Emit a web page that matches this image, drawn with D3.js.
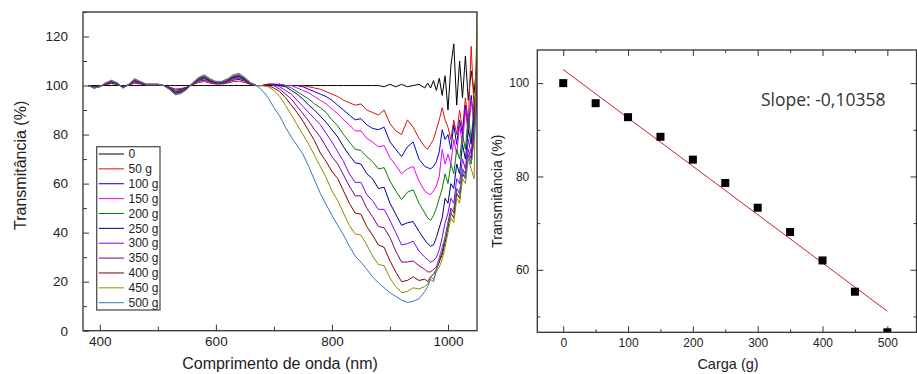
<!DOCTYPE html>
<html>
<head>
<meta charset="utf-8">
<script src="https://cdn.jsdelivr.net/npm/d3@7/dist/d3.min.js"></script>
<style>
  body { margin: 0; background: #fff; }
  svg { display: block; font-family: Arial, "Liberation Sans", sans-serif; }
</style>
</head>
<body>
<svg id="chart" width="917" height="374"></svg>
<script>
// ---- left panel: transmission spectra ----
const wavelengths = [
  380, 390, 400, 410, 420, 430, 440, 450, 460, 470, 480, 490, 500, 510, 520, 530, 540, 550, 560, 570,
  580, 590, 600, 610, 620, 630, 640, 650, 660, 670,
  680, 690, 700, 710, 720, 730, 740, 750, 760, 770, 780, 790, 800, 810, 820, 830, 840, 850, 860, 870,
  880, 890, 900, 910, 920, 930, 940, 950, 960,
  965, 970, 975, 980, 985, 990, 995, 1000, 1005, 1010, 1015, 1020, 1025, 1030, 1035, 1040, 1045, 1050
];

const loadLabels = ["0", "50 g", "100 g", "150 g", "200 g", "250 g", "300 g", "350 g", "400 g", "450 g", "500 g"];

const t0 = [
  100, 100, 100, 100, 100, 100, 100, 100, 100, 100, 100, 100, 100, 100, 100, 100, 100, 100, 100, 100,
  100, 100, 100, 100, 100, 100, 100, 100, 100, 100,
  100, 100, 100, 100, 100, 100, 100, 100, 100, 100, 100, 100, 100, 100, 100, 100, 100, 100, 100, 100,
  100, 99.5, 100.5, 99.5, 100.5, 99.5, 100, 100.5, 99,
  101, 99, 102, 98, 103, 96, 104, 90, 108, 117, 92, 110, 95, 112, 94, 106, 97, 110
];
const t50 = [
  100, 99.6, 99.8, 100.4, 100.8, 100.4, 99.6, 100.2, 101, 100.6, 100.2, 100.2, 100.2, 100, 99.4, 98.6, 98.8, 99.4, 100.4, 101.2,
  101.6, 101, 100.6, 100.6, 101, 101.6, 101.8, 101.2, 100.4, 100,
  100, 100, 100, 100.5, 100, 100, 100, 100, 99.5, 99, 98.5, 97.5, 96.5, 95.5, 94, 93, 92, 92.5, 90, 89,
  88, 90, 84.5, 81.5, 80, 86, 83, 78.5, 75,
  74, 76, 78, 82, 86, 91, 86, 83, 78, 86, 80, 90, 82, 95, 85, 116, 90, 110
];
const t100 = [
  100, 99.5, 99.7, 100.6, 101.1, 100.6, 99.5, 100.3, 101.4, 100.8, 100.3, 100.3, 100.3, 100, 99.2, 98.1, 98.4, 99.2, 100.6, 101.7,
  102.2, 101.4, 100.8, 100.8, 101.4, 102.2, 102.5, 101.7, 100.6, 100,
  100, 100, 100.5, 100.5, 100, 100, 100, 99.5, 98.5, 97.5, 96.5, 95.5, 94, 92, 90, 88, 86, 86.5, 84, 82.5,
  82, 83, 77, 74, 71, 75, 77, 70, 67,
  66.5, 66, 67, 69, 73, 82, 78, 80, 74, 84, 76, 86, 80, 92, 82, 96, 85, 100
];
const t150 = [
  100, 99.4, 99.7, 100.7, 101.3, 100.7, 99.4, 100.3, 101.6, 101, 100.3, 100.3, 100.3, 100, 99, 97.7, 98, 99, 100.7, 102,
  102.6, 101.6, 101, 101, 101.6, 102.6, 102.9, 102, 100.7, 100,
  100, 100.5, 100.5, 100.5, 100, 100, 99, 98, 97, 95.5, 94, 92.5, 90.5, 88.5, 86, 84, 81.5, 81.5, 78.5, 77,
  75, 75.5, 70.5, 67.5, 64, 66, 67, 61, 57,
  56, 55.5, 57, 59, 63, 74, 68, 72, 68, 78, 72, 84, 76, 90, 80, 94, 84, 104
];
const t200 = [
  100, 99.3, 99.7, 100.7, 101.4, 100.7, 99.3, 100.4, 101.8, 101.1, 100.4, 100.4, 100.4, 100, 99, 97.6, 97.9, 99, 100.7, 102.1,
  102.8, 101.8, 101.1, 101.1, 101.8, 102.8, 103.2, 102.1, 100.7, 100,
  100, 100.5, 100.5, 100, 100, 99, 97.5, 96, 94.5, 92.5, 91, 89, 86, 83.5, 80, 77, 74, 73.5, 71, 69,
  66, 66.5, 61, 57, 53.5, 56.5, 57.5, 52, 48,
  46, 45, 47, 50, 54, 58, 64, 60, 68, 64, 74, 70, 80, 74, 88, 78, 92, 100
];
const t250 = [
  100, 99.2, 99.6, 100.8, 101.6, 100.8, 99.2, 100.4, 102, 101.2, 100.4, 100.4, 100.4, 100, 98.8, 97.2, 97.6, 98.8, 100.8, 102.4,
  103.2, 102, 101.2, 101.2, 102, 103.2, 103.6, 102.4, 100.8, 100,
  100, 100.5, 100.5, 100, 99.5, 98, 96.5, 94.5, 92, 90, 87.5, 85, 82, 79, 75, 71.5, 68.5, 68, 64, 62,
  58, 58.5, 52, 47.5, 43, 44, 44.5, 40.5, 37,
  35.5, 34.5, 35, 38, 42, 46, 54, 52, 60, 58, 68, 64, 76, 70, 82, 76, 88, 98
];
const t300 = [
  100, 99.2, 99.6, 100.9, 101.7, 100.9, 99.2, 100.4, 102.1, 101.3, 100.4, 100.4, 100.4, 100, 98.7, 97, 97.5, 98.7, 100.9, 102.6,
  103.4, 102.1, 101.3, 101.3, 102.1, 103.4, 103.8, 102.6, 100.9, 100,
  100, 100.5, 100.5, 99.5, 98, 96.5, 94, 91.5, 89, 86.5, 84, 80.5, 77, 73, 69, 64, 60.5, 60.5, 55.5, 53,
  49.5, 49.5, 45, 40, 35, 35.5, 36.5, 32.5, 30,
  29, 28, 28.5, 30, 33, 38, 44, 48, 54, 52, 62, 60, 70, 66, 78, 72, 86, 96
];
const t350 = [
  100, 99.1, 99.6, 100.9, 101.8, 100.9, 99.1, 100.5, 102.3, 101.4, 100.5, 100.5, 100.5, 100, 98.7, 96.9, 97.3, 98.7, 100.9, 102.7,
  103.6, 102.3, 101.4, 101.4, 102.3, 103.6, 104.1, 102.7, 100.9, 100,
  100, 100.5, 100, 98.5, 96.5, 94.5, 91.5, 88.5, 85.5, 82, 79, 75, 71, 68, 63.5, 59, 55, 55, 50, 46.5,
  42.5, 42, 38, 32.5, 28, 28, 28.5, 26.5, 25,
  24, 24, 25, 26, 29, 32, 38, 44, 50, 48, 58, 56, 66, 64, 74, 70, 82, 94
];
const t400 = [
  100, 99, 99.5, 101, 101.9, 101, 99, 100.5, 102.4, 101.4, 100.5, 100.5, 100.5, 100, 98.6, 96.7, 97.2, 98.6, 101, 102.9,
  103.8, 102.4, 101.4, 101.4, 102.4, 103.8, 104.3, 102.9, 101, 100,
  100, 100, 99, 97.5, 95, 92, 89, 85.5, 81.5, 77.5, 72.5, 69, 65, 62, 57, 52, 48, 47.5, 42.5, 39,
  35, 34, 28.5, 24, 20, 20.5, 22, 20.5, 21,
  20, 22, 23, 25, 28, 31, 36, 42, 48, 46, 56, 54, 64, 62, 72, 68, 80, 120
];
const t450 = [
  100, 99, 99.5, 101, 102, 101, 99, 100.5, 102.5, 101.5, 100.5, 100.5, 100.5, 100, 98.5, 96.5, 97, 98.5, 101, 103,
  104, 102.5, 101.5, 101.5, 102.5, 104, 104.5, 103, 101, 100,
  100, 99.5, 98, 95.5, 92, 88, 84, 80, 76, 71.5, 67, 62.5, 57, 53, 48, 43, 39.5, 39, 35, 30.5,
  27, 26.5, 21.5, 18, 15.5, 16, 17.5, 17, 18,
  19, 22, 21, 24, 26, 29, 34, 40, 46, 44, 54, 52, 62, 60, 70, 66, 62, 130
];
const t500 = [
  100, 98.9, 99.5, 101.1, 102.2, 101.1, 98.9, 100.6, 102.8, 101.7, 100.6, 100.6, 100.6, 100, 98.4, 96.2, 96.7, 98.4, 101.1, 103.3,
  104.4, 102.8, 101.7, 101.7, 102.8, 104.4, 105, 103.3, 101.1, 100,
  98, 95, 91, 87.5, 83, 79, 75.5, 72, 67, 61.5, 56, 51.5, 47, 43, 39, 34.5, 30.5, 28, 25, 22,
  19.5, 17.5, 15.5, 14, 12.5, 11.5, 12, 13, 16,
  18, 21, 20, 25, 30, 34, 38, 44, 48, 50, 58, 56, 66, 62, 72, 68, 78, 92
];
const spectra = [t0, t50, t100, t150, t200, t250, t300, t350, t400, t450, t500];

// ---- right panel: transmittance vs load ----
const loads = [0, 50, 100, 150, 200, 250, 300, 350, 400, 450, 500];
const transmittance = [100, 95.7, 92.7, 88.5, 83.6, 78.6, 73.3, 68.1, 62.0, 55.3, 46.6];
const fitSlope = -0.10358;
const fitIntercept = 102.9;
const slopeLabel = "Slope: -0,10358";

const palette = ["#000000", "#e01010", "#0000d0", "#f000f0", "#008000", "#000080",
  "#8000ff", "#800080", "#800000", "#8c8c00", "#3a78b0"];

const svg = d3.select("#chart");
const axisColor = "#333";
const plain = d3.format("d");

function styleAxis(g, fontSize) {
  g.select(".domain").remove();
  g.selectAll(".tick line").attr("stroke", axisColor);
  g.selectAll(".tick text").attr("fill", "#222").style("font-size", fontSize + "px");
}

// left panel
const L = { left: 83, right: 477, top: 12, bottom: 330.7 };
const xL = d3.scaleLinear().domain([371, 1050]).range([L.left, L.right]);
const yL = d3.scaleLinear().domain([0, 130]).range([L.bottom, L.top]);

svg.append("defs").append("clipPath").attr("id", "clipL")
  .append("rect").attr("x", L.left).attr("y", L.top)
  .attr("width", L.right - L.left).attr("height", L.bottom - L.top);

const lineL = d3.line()
  .x((d, i) => xL(wavelengths[i]))
  .y((d) => yL(d));

svg.append("g")
  .attr("clip-path", "url(#clipL)")
  .selectAll("path")
  .data(spectra)
  .join("path")
  .attr("fill", "none")
  .attr("stroke", (d, i) => palette[i])
  .attr("stroke-width", 1)
  .attr("stroke-linejoin", "round")
  .attr("d", lineL);

svg.append("g")
  .attr("transform", `translate(0,${L.bottom})`)
  .call(d3.axisBottom(xL).tickValues([400, 600, 800, 1000]).tickFormat(plain).tickSize(-6).tickPadding(6))
  .call((g) => styleAxis(g, 13.5));
svg.append("g")
  .attr("transform", `translate(0,${L.bottom})`)
  .call(d3.axisBottom(xL).tickValues([500, 700, 900]).tickSize(-4).tickFormat(""))
  .call((g) => styleAxis(g, 13.5));
svg.append("g")
  .attr("transform", `translate(${L.left},0)`)
  .call(d3.axisLeft(yL).tickValues([0, 20, 40, 60, 80, 100, 120]).tickFormat(plain).tickSize(-6).tickPadding(15))
  .call((g) => styleAxis(g, 13.5));
svg.append("g")
  .attr("transform", `translate(${L.left},0)`)
  .call(d3.axisLeft(yL).tickValues([10, 30, 50, 70, 90, 110, 130]).tickSize(-4).tickFormat(""))
  .call((g) => styleAxis(g, 13.5));

svg.append("rect")
  .attr("x", L.left).attr("y", L.top)
  .attr("width", L.right - L.left).attr("height", L.bottom - L.top)
  .attr("fill", "none").attr("stroke", axisColor).attr("stroke-width", 1.3);

svg.append("text")
  .attr("transform", `translate(22,${(L.top + L.bottom) / 2 - 6}) rotate(-90)`)
  .attr("text-anchor", "middle")
  .attr("dominant-baseline", "middle")
  .attr("fill", "#222")
  .style("font-size", "16px")
  .text("Transmitância (%)");
svg.append("text")
  .attr("x", (L.left + L.right) / 2).attr("y", 369)
  .attr("text-anchor", "middle")
  .attr("fill", "#222")
  .style("font-size", "16px")
  .text("Comprimento de onda (nm)");

// legend
const legend = svg.append("g");
legend.append("rect")
  .attr("x", 96.7).attr("y", 146.7).attr("width", 63.3).attr("height", 163.3)
  .attr("fill", "#fff").attr("stroke", "#444").attr("stroke-width", 1.2);
const rows = legend.selectAll("g.row")
  .data(loadLabels)
  .join("g")
  .attr("class", "row")
  .attr("transform", (d, i) => `translate(0,${154 + i * 14.87})`);
rows.append("line")
  .attr("x1", 98.7).attr("x2", 124)
  .attr("stroke", (d, i) => palette[i]).attr("stroke-width", 1);
rows.append("text")
  .attr("x", 128.5).attr("dy", "0.35em")
  .attr("fill", "#222")
  .style("font-size", "12px")
  .text((d) => d);

// right panel
const R = { left: 537.3, right: 916.5, top: 50, bottom: 332.3 };
const xR = d3.scaleLinear().domain([-40, 545]).range([R.left, R.right]);
const yR = d3.scaleLinear().domain([46.6, 107.1]).range([R.bottom, R.top]);

svg.append("defs").append("clipPath").attr("id", "clipR")
  .append("rect").attr("x", R.left).attr("y", R.top)
  .attr("width", R.right - R.left).attr("height", R.bottom - R.top);

const major = [0, 100, 200, 300, 400, 500];
const minor = [50, 150, 250, 350, 450];
svg.append("g")
  .attr("transform", `translate(0,${R.bottom})`)
  .call(d3.axisBottom(xR).tickValues(major).tickFormat(plain).tickSize(-6).tickPadding(6))
  .call((g) => styleAxis(g, 12));
svg.append("g")
  .attr("transform", `translate(0,${R.bottom})`)
  .call(d3.axisBottom(xR).tickValues(minor).tickSize(-3).tickFormat(""))
  .call((g) => styleAxis(g, 12));
svg.append("g")
  .attr("transform", `translate(0,${R.top})`)
  .call(d3.axisTop(xR).tickValues(major).tickSize(-6).tickFormat(""))
  .call((g) => styleAxis(g, 12));
svg.append("g")
  .attr("transform", `translate(0,${R.top})`)
  .call(d3.axisTop(xR).tickValues(minor).tickSize(-3).tickFormat(""))
  .call((g) => styleAxis(g, 12));
svg.append("g")
  .attr("transform", `translate(${R.left},0)`)
  .call(d3.axisLeft(yR).tickValues([60, 80, 100]).tickFormat(plain).tickSize(-6).tickPadding(8))
  .call((g) => styleAxis(g, 12));
svg.append("g")
  .attr("transform", `translate(${R.left},0)`)
  .call(d3.axisLeft(yR).tickValues([50, 70, 90]).tickSize(-3).tickFormat(""))
  .call((g) => styleAxis(g, 12));
svg.append("g")
  .attr("transform", `translate(${R.right},0)`)
  .call(d3.axisRight(yR).tickValues([60, 80, 100]).tickSize(-6).tickFormat(""))
  .call((g) => styleAxis(g, 12));
svg.append("g")
  .attr("transform", `translate(${R.right},0)`)
  .call(d3.axisRight(yR).tickValues([50, 70, 90]).tickSize(-3).tickFormat(""))
  .call((g) => styleAxis(g, 12));

// linear fit
svg.append("line")
  .attr("x1", xR(0)).attr("y1", yR(fitIntercept))
  .attr("x2", xR(500)).attr("y2", yR(fitIntercept + fitSlope * 500))
  .attr("stroke", "#d02020").attr("stroke-width", 1);

svg.append("g")
  .attr("clip-path", "url(#clipR)")
  .selectAll("rect")
  .data(loads)
  .join("rect")
  .attr("x", (d) => xR(d) - 4)
  .attr("y", (d, i) => yR(transmittance[i]) - 4)
  .attr("width", 8).attr("height", 8)
  .attr("fill", "#000");

svg.append("rect")
  .attr("x", R.left).attr("y", R.top)
  .attr("width", R.right - R.left).attr("height", R.bottom - R.top)
  .attr("fill", "none").attr("stroke", axisColor).attr("stroke-width", 1.3);

svg.append("text")
  .attr("x", 761).attr("y", 106)
  .attr("fill", "#333")
  .style("font-family", "'Open Sans', sans-serif")
  .style("font-size", "17.5px")
  .text(slopeLabel);

svg.append("text")
  .attr("transform", `translate(498,${(R.top + R.bottom) / 2}) rotate(-90)`)
  .attr("text-anchor", "middle")
  .attr("dominant-baseline", "middle")
  .attr("fill", "#222")
  .style("font-size", "14px")
  .text("Transmitância (%)");
svg.append("text")
  .attr("x", 728).attr("y", 369)
  .attr("text-anchor", "middle")
  .attr("fill", "#222")
  .style("font-size", "14.5px")
  .text("Carga (g)");
</script>
</body>
</html>
